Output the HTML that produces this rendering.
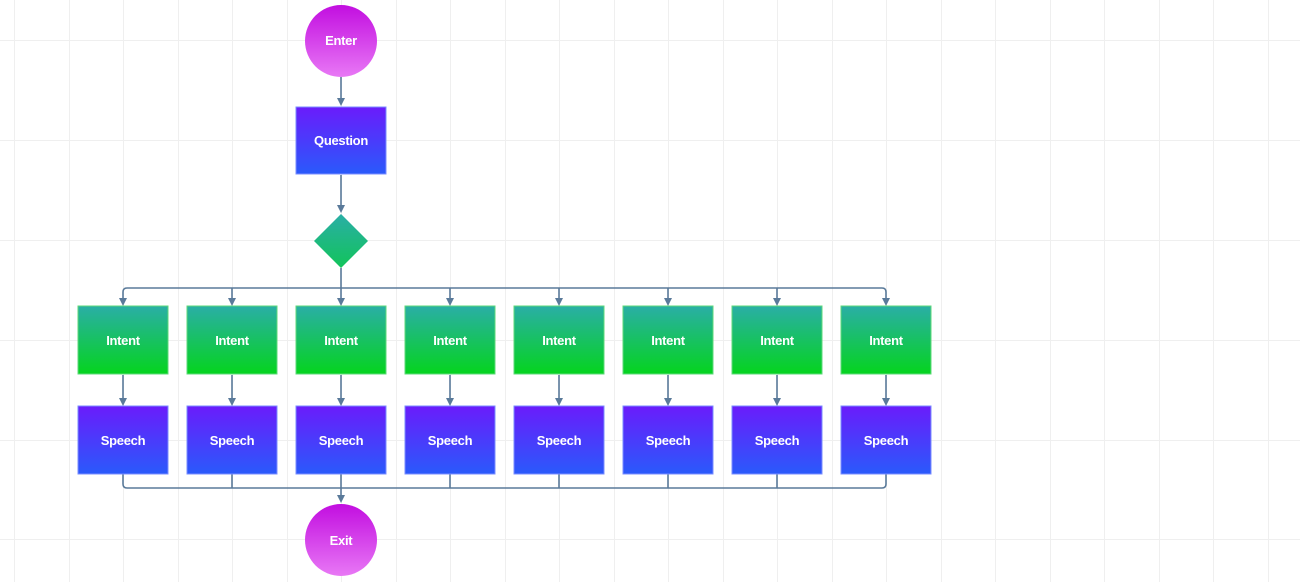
<!DOCTYPE html>
<html><head><meta charset="utf-8"><style>
body{margin:0;width:1300px;height:582px;overflow:hidden;background:#fff;font-family:"Liberation Sans",sans-serif}
</style></head><body>
<svg width="1300" height="582" viewBox="0 0 1300 582" xmlns="http://www.w3.org/2000/svg">
<defs>
<linearGradient id="cir" x1="0" y1="0" x2="0" y2="1"><stop offset="0" stop-color="#c20ee0"/><stop offset="1" stop-color="#e878f5"/></linearGradient>
<linearGradient id="blu" x1="0" y1="0" x2="0" y2="1"><stop offset="0" stop-color="#6a1cfb"/><stop offset="1" stop-color="#2a5afb"/></linearGradient>
<linearGradient id="grn" x1="0" y1="0" x2="0" y2="1"><stop offset="0" stop-color="#2aaea6"/><stop offset="1" stop-color="#05d41e"/></linearGradient>
<linearGradient id="dia" x1="0" y1="0" x2="0" y2="1"><stop offset="0" stop-color="#2aaea6"/><stop offset="1" stop-color="#12c45a"/></linearGradient>
<path id="ah" d="M-4,-8 L4,-8 L0,0 Z" fill="#5a7a9a"/>
</defs>
<g stroke="#efefef" stroke-width="1">
<line x1="14.5" y1="0" x2="14.5" y2="582"/><line x1="69.5" y1="0" x2="69.5" y2="582"/><line x1="123.5" y1="0" x2="123.5" y2="582"/><line x1="178.5" y1="0" x2="178.5" y2="582"/><line x1="232.5" y1="0" x2="232.5" y2="582"/><line x1="287.5" y1="0" x2="287.5" y2="582"/><line x1="341.5" y1="0" x2="341.5" y2="582"/><line x1="396.5" y1="0" x2="396.5" y2="582"/><line x1="450.5" y1="0" x2="450.5" y2="582"/><line x1="505.5" y1="0" x2="505.5" y2="582"/><line x1="559.5" y1="0" x2="559.5" y2="582"/><line x1="614.5" y1="0" x2="614.5" y2="582"/><line x1="668.5" y1="0" x2="668.5" y2="582"/><line x1="723.5" y1="0" x2="723.5" y2="582"/><line x1="777.5" y1="0" x2="777.5" y2="582"/><line x1="832.5" y1="0" x2="832.5" y2="582"/><line x1="886.5" y1="0" x2="886.5" y2="582"/><line x1="941.5" y1="0" x2="941.5" y2="582"/><line x1="995.5" y1="0" x2="995.5" y2="582"/><line x1="1050.5" y1="0" x2="1050.5" y2="582"/><line x1="1104.5" y1="0" x2="1104.5" y2="582"/><line x1="1159.5" y1="0" x2="1159.5" y2="582"/><line x1="1213.5" y1="0" x2="1213.5" y2="582"/><line x1="1268.5" y1="0" x2="1268.5" y2="582"/>
<line x1="0" y1="40.5" x2="1300" y2="40.5"/><line x1="0" y1="140.5" x2="1300" y2="140.5"/><line x1="0" y1="240.5" x2="1300" y2="240.5"/><line x1="0" y1="340.5" x2="1300" y2="340.5"/><line x1="0" y1="440.5" x2="1300" y2="440.5"/><line x1="0" y1="539.5" x2="1300" y2="539.5"/>
</g>
<g stroke="#5a7a9a" stroke-width="1.6" fill="none">
<line x1="341" y1="77" x2="341" y2="100"/>
<line x1="341" y1="175" x2="341" y2="207"/>
<line x1="341" y1="268" x2="341" y2="288"/>
<path d="M123,300 V292 Q123,288 127,288 H882 Q886,288 886,292 V300"/>
<path d="M123,474 V484 Q123,488 127,488 H882 Q886,488 886,484 V474"/>
<line x1="341" y1="474" x2="341" y2="497"/>
<line x1="232" y1="288" x2="232" y2="300"/><line x1="341" y1="288" x2="341" y2="300"/><line x1="450" y1="288" x2="450" y2="300"/><line x1="559" y1="288" x2="559" y2="300"/><line x1="668" y1="288" x2="668" y2="300"/><line x1="777" y1="288" x2="777" y2="300"/>
<line x1="123" y1="375" x2="123" y2="400"/><line x1="232" y1="375" x2="232" y2="400"/><line x1="341" y1="375" x2="341" y2="400"/><line x1="450" y1="375" x2="450" y2="400"/><line x1="559" y1="375" x2="559" y2="400"/><line x1="668" y1="375" x2="668" y2="400"/><line x1="777" y1="375" x2="777" y2="400"/><line x1="886" y1="375" x2="886" y2="400"/>
<line x1="232" y1="474" x2="232" y2="488"/><line x1="450" y1="474" x2="450" y2="488"/><line x1="559" y1="474" x2="559" y2="488"/><line x1="668" y1="474" x2="668" y2="488"/><line x1="777" y1="474" x2="777" y2="488"/>
</g>
<use href="#ah" x="341" y="106"/><use href="#ah" x="341" y="213"/><use href="#ah" x="341" y="503"/>
<use href="#ah" x="123" y="306"/><use href="#ah" x="232" y="306"/><use href="#ah" x="341" y="306"/><use href="#ah" x="450" y="306"/><use href="#ah" x="559" y="306"/><use href="#ah" x="668" y="306"/><use href="#ah" x="777" y="306"/><use href="#ah" x="886" y="306"/>
<use href="#ah" x="123" y="406"/><use href="#ah" x="232" y="406"/><use href="#ah" x="341" y="406"/><use href="#ah" x="450" y="406"/><use href="#ah" x="559" y="406"/><use href="#ah" x="668" y="406"/><use href="#ah" x="777" y="406"/><use href="#ah" x="886" y="406"/>
<circle cx="341" cy="41" r="36" fill="url(#cir)"/>
<circle cx="341" cy="540" r="36" fill="url(#cir)"/>
<rect x="296" y="107" width="90" height="67" fill="url(#blu)" stroke="#7a8cff" stroke-width="1"/>
<path d="M341,214 L368,241 L341,268 L314,241 Z" fill="url(#dia)"/>
<g fill="url(#grn)" stroke="#5ed87a" stroke-width="1">
<rect x="78" y="306" width="90" height="68"/><rect x="187" y="306" width="90" height="68"/><rect x="296" y="306" width="90" height="68"/><rect x="405" y="306" width="90" height="68"/><rect x="514" y="306" width="90" height="68"/><rect x="623" y="306" width="90" height="68"/><rect x="732" y="306" width="90" height="68"/><rect x="841" y="306" width="90" height="68"/>
</g>
<g fill="url(#blu)" stroke="#7a8cff" stroke-width="1">
<rect x="78" y="406" width="90" height="68"/><rect x="187" y="406" width="90" height="68"/><rect x="296" y="406" width="90" height="68"/><rect x="405" y="406" width="90" height="68"/><rect x="514" y="406" width="90" height="68"/><rect x="623" y="406" width="90" height="68"/><rect x="732" y="406" width="90" height="68"/><rect x="841" y="406" width="90" height="68"/>
</g>
<g fill="#fff" font-family="Liberation Sans, sans-serif" font-size="13" font-weight="bold" text-anchor="middle" letter-spacing="-0.3">
<text x="341" y="45">Enter</text><text x="341" y="545">Exit</text><text x="341" y="145">Question</text>
<text x="123" y="345">Intent</text><text x="232" y="345">Intent</text><text x="341" y="345">Intent</text><text x="450" y="345">Intent</text><text x="559" y="345">Intent</text><text x="668" y="345">Intent</text><text x="777" y="345">Intent</text><text x="886" y="345">Intent</text>
<text x="123" y="445">Speech</text><text x="232" y="445">Speech</text><text x="341" y="445">Speech</text><text x="450" y="445">Speech</text><text x="559" y="445">Speech</text><text x="668" y="445">Speech</text><text x="777" y="445">Speech</text><text x="886" y="445">Speech</text>
</g>
</svg>
</body></html>
